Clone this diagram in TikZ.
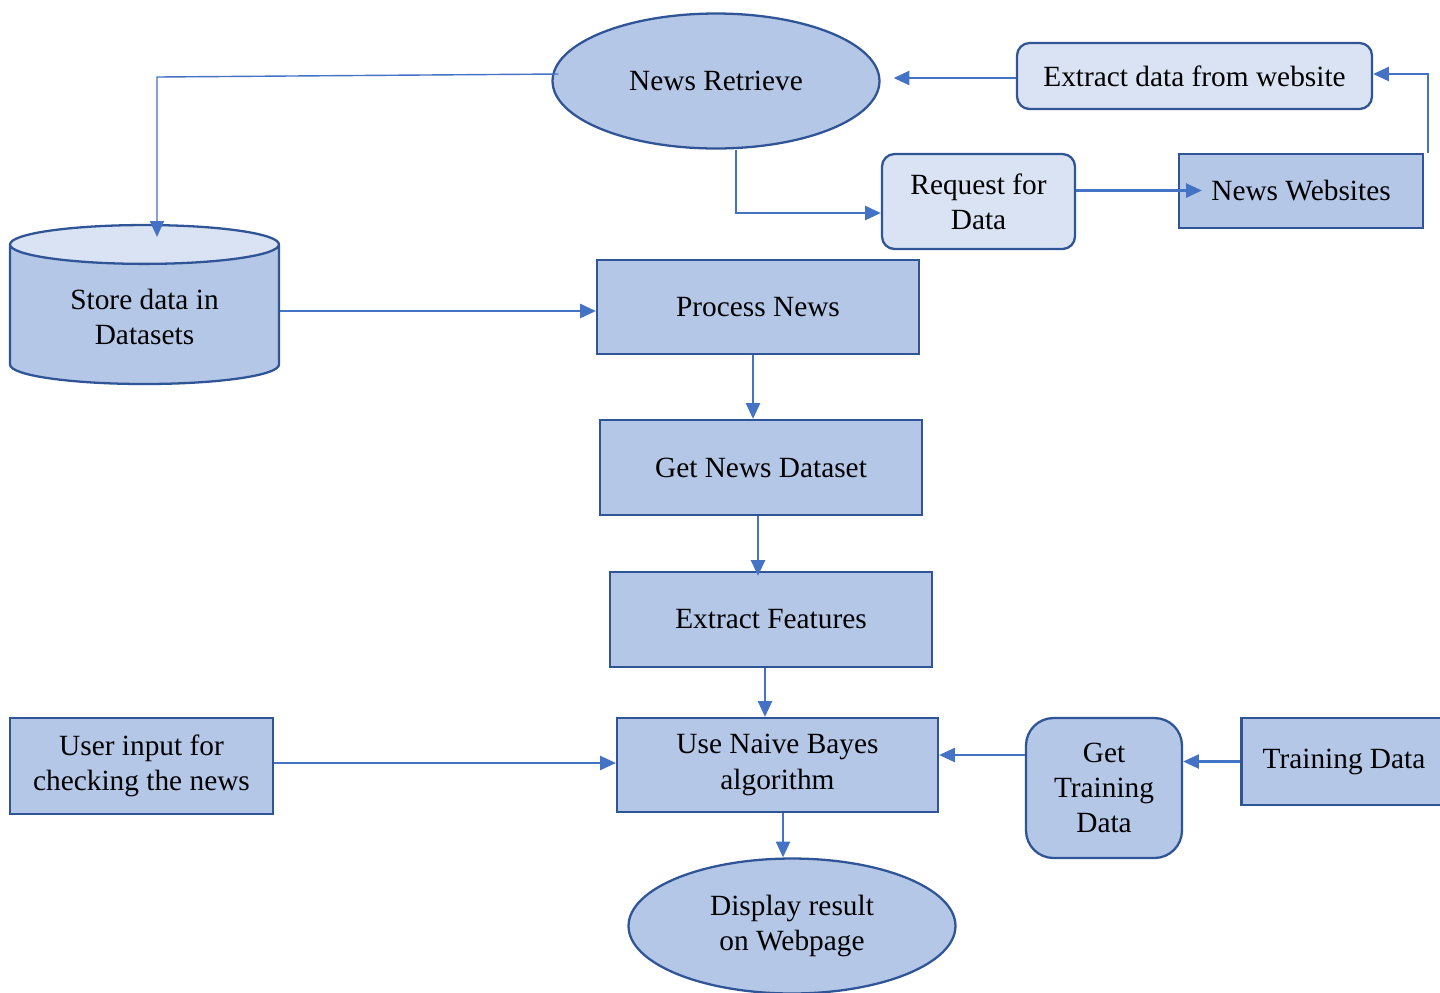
\documentclass[tikz,border=0pt]{standalone}
\usepackage{fontspec}
\setmainfont{Liberation Serif}
\newfontfamily\boxfont{Liberation Serif}
\usepackage{tikz}
\usetikzlibrary{arrows.meta, shapes.geometric}

\definecolor{boxdark}{HTML}{B4C7E7}
\definecolor{boxlight}{HTML}{DAE3F3}
\definecolor{boxline}{HTML}{2F5597}
\definecolor{arrline}{HTML}{4472C4}

\begin{document}
\begin{tikzpicture}[
            x=0.02cm, y=-0.02cm,
            every node/.style={font=\boxfont\fontsize{16.7}{20}\selectfont, align=center, inner sep=2pt},
            darkbox/.style={rectangle, draw=boxline, fill=boxdark, line width=1.3pt},
            lightround/.style={rectangle, rounded corners=0.25cm, draw=boxline, fill=boxlight, line width=1.3pt},
            darkround/.style={rectangle, rounded corners=0.55cm, draw=boxline, fill=boxdark, line width=1.3pt},
            ovalnode/.style={ellipse, draw=boxline, fill=boxdark, line width=1.3pt, minimum width=6.54cm, minimum height=2.7cm},
            dbnode/.style={cylinder, shape border rotate=90, aspect=0.25, draw=boxline, line width=1.3pt,
                cylinder uses custom fill, cylinder body fill=boxdark, cylinder end fill=boxlight},
            arr/.style={-{Triangle[length=9pt,width=8pt]}, draw=arrline, line width=1.3pt},
            ]
            \useasboundingbox (0,0) rectangle (1440,992);

            % top part
            \node[ovalnode]   (retrieve) at (716,81) {News Retrieve};
            \node[lightround, minimum width=7.1cm, minimum height=1.32cm] (extract) at (1194.5,76) {Extract data from website};
            \node[lightround, minimum width=3.86cm, minimum height=1.9cm] (request) at (978.5,201.5) {Request for\\Data};
            \node[darkbox, minimum width=4.88cm, minimum height=1.48cm] (websites) at (1301,191) {News Websites};
            \node[dbnode, minimum width=5.38cm, minimum height=3.18cm] (store) at (144.5,317) {Store data in\\Datasets};

            % middle column
            \node[darkbox, minimum width=6.44cm, minimum height=1.88cm] (process) at (758,307) {Process News};
            \node[darkbox, minimum width=6.44cm, minimum height=1.9cm] (dataset) at (761,467.5) {Get News Dataset};
            \node[darkbox, minimum width=6.44cm, minimum height=1.9cm] (features) at (771,619.5) {Extract Features};
            \node[darkbox, minimum width=6.42cm, minimum height=1.88cm] (bayes) at (777.5,765) {Use Naive Bayes\\algorithm};
            \node[ovalnode]   (display) at (792,926) {Display result\\on Webpage};

            % bottom row
            \node[darkbox, minimum width=5.26cm, minimum height=1.92cm] (user) at (141.5,766) {User input for\\checking the news};
            \node[darkround, minimum width=3.12cm, minimum height=2.8cm] (gettrain) at (1104,788) {Get\\Training\\Data};
            \node[darkbox, minimum width=4.1cm, minimum height=1.74cm] (train) at (1344,761.5) {Training Data};

            \coordinate (bend) at (157,77);

            \draw[arr, shorten >=0.26cm] ([yshift=-0.04cm]extract.west) -- ([yshift=-0.04cm]extract.west -| retrieve.east);
            \draw[arr] ([xshift=0.08cm]websites.north east) |- ([yshift=0.04cm]extract.east);
            \draw[arr, shorten >=-0.48cm] ([yshift=0.22cm]request.east) -- ([yshift=0.22cm]request.east -| websites.west);
            \draw[arr] ([xshift=0.4cm]retrieve.south) |- ([yshift=-0.23cm]request.west);
            \draw[arr, line width=0.8pt, shorten >=-0.26cm] ([xshift=0.14cm, yshift=0.14cm]retrieve.west) -- (bend) -- (bend |- store.north);
            \draw[arr] (store.east |- 0,311) -- (process.west |- 0,311);
            \draw[arr] ([xshift=-0.1cm]process.south) -- ([xshift=-0.1cm]process.south |- dataset.north);
            \draw[arr, shorten >=-0.1cm] ([xshift=-0.06cm]dataset.south) -- ([xshift=-0.06cm]dataset.south |- features.north);
            \draw[arr] ([xshift=-0.12cm]features.south) -- ([xshift=-0.12cm]features.south |- bayes.north);
            \draw[arr] (user.east |- 0,763) -- (bayes.west |- 0,763);
            \draw[arr] ([yshift=0.66cm]gettrain.west) -- ([yshift=0.66cm]gettrain.west -| bayes.east);
            \draw[arr] (train.west) -- (train.west -| gettrain.east);
            \draw[arr] ([xshift=0.11cm]bayes.south) -- ([xshift=0.11cm]bayes.south |- display.north);
        \end{tikzpicture}
\end{document}
